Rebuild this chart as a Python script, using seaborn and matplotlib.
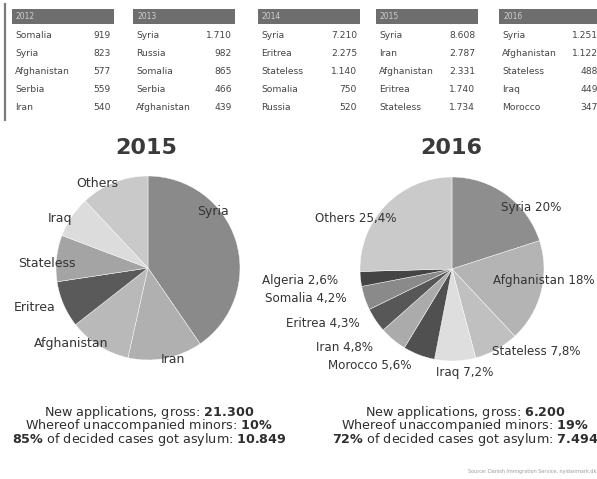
import matplotlib
matplotlib.use("Agg")
import matplotlib.pyplot as plt
from matplotlib.patches import Rectangle
import seaborn as sns

# ---- top-5 tables per year ----
table_years = ["2012", "2013", "2014", "2015", "2016"]
countries_2012 = ["Somalia", "Syria", "Afghanistan", "Serbia", "Iran"]
counts_2012 = [919, 823, 577, 559, 540]
countries_2013 = ["Syria", "Russia", "Somalia", "Serbia", "Afghanistan"]
counts_2013 = [1710, 982, 865, 466, 439]
countries_2014 = ["Syria", "Eritrea", "Stateless", "Somalia", "Russia"]
counts_2014 = [7210, 2275, 1140, 750, 520]
countries_2015 = ["Syria", "Iran", "Afghanistan", "Eritrea", "Stateless"]
counts_2015 = [8608, 2787, 2331, 1740, 1734]
countries_2016 = ["Syria", "Afghanistan", "Stateless", "Iraq", "Morocco"]
counts_2016 = [1251, 1122, 488, 449, 347]

# ---- pie data ----
pie_labels_2015 = ["Syria", "Iran", "Afghanistan", "Eritrea", "Stateless", "Iraq", "Others"]
pie_values_2015 = [8608, 2787, 2331, 1740, 1734, 1550, 2550]
pie_labels_2016 = ["Syria", "Afghanistan", "Stateless", "Iraq", "Morocco",
                   "Iran", "Eritrea", "Somalia", "Algeria", "Others"]
pie_shares_2016 = [20, 18, 7.8, 7.2, 5.6, 4.8, 4.3, 4.2, 2.6, 25.4]

# ---- key figures ----
summary_years = ["2015", "2016"]
new_applications = [21300, 6200]
minors_pct = [10, 19]
asylum_pct = [85, 72]
asylum_cases = [10849, 7494]

sns.set_theme(style="white")
plt.rcParams["font.family"] = ["DejaVu Sans"]
plt.rcParams["mathtext.fontset"] = "custom"
plt.rcParams["mathtext.rm"] = "DejaVu Sans"
plt.rcParams["mathtext.bf"] = "DejaVu Sans:bold"

W, H = 597, 479
fig = plt.figure(figsize=(W / 100, H / 100), dpi=100)
bg = fig.add_axes([0, 0, 1, 1])
bg.set_xlim(0, W)
bg.set_ylim(H, 0)
bg.axis("off")


def thousands(n):
    return f"{n:,}".replace(",", ".")


# left rule next to the tables
bg.plot([5, 5], [3, 121], color="#7a7a7a", lw=1.6, solid_capstyle="butt")

tables = [
    (countries_2012, counts_2012),
    (countries_2013, counts_2013),
    (countries_2014, counts_2014),
    (countries_2015, counts_2015),
    (countries_2016, counts_2016),
]
table_x = [12, 133, 258, 376, 499]
table_w = 102
for year, x0, (names, counts) in zip(table_years, table_x, tables):
    bg.add_patch(Rectangle((x0, 9), table_w, 15, color="#6e6e6e", lw=0))
    bg.text(x0 + 4, 16.5, year, color="#cfcfcf", fontsize=5.5, va="center")
    for j, (name, cnt) in enumerate(zip(names, counts)):
        y = 35 + 18 * j
        bg.text(x0 + 3, y, name, color="#444444", fontsize=6.6, va="center")
        bg.text(x0 + table_w - 3, y, thousands(cnt), color="#444444",
                fontsize=6.6, va="center", ha="right")

colors_2015 = ["#8a8a8a", "#b0b0b0", "#b9b9b9", "#5a5a5a", "#a4a4a4", "#dcdcdc", "#c9c9c9"]
colors_2016 = ["#8e8e8e", "#b4b4b4", "#c0c0c0", "#dedede", "#505050",
               "#ababab", "#575757", "#8a8a8a", "#444444", "#cacaca"]


def draw_pie(cx, cy, r, values, colors):
    ax = fig.add_axes([(cx - r) / W, 1 - (cy + r) / H, 2 * r / W, 2 * r / H])
    ax.pie(values, colors=colors, startangle=90, counterclock=False,
           wedgeprops=dict(edgecolor="white", linewidth=0.3))
    ax.set_xlim(-1, 1)
    ax.set_ylim(-1, 1)
    ax.axis("off")
    return ax


ax15 = draw_pie(148, 268, 92, pie_values_2015, colors_2015)
ax16 = draw_pie(452, 269, 92, pie_shares_2016, colors_2016)

# label positions in pie-radius units
pos_2015 = [(0.71, 0.61), (0.27, -0.99), (-0.83, -0.82), (-1.23, -0.43),
            (-1.10, 0.05), (-0.96, 0.54), (-0.55, 0.92)]
for lab, (lx, ly) in zip(pie_labels_2015, pos_2015):
    ax15.text(lx, ly, lab, ha="center", va="center", fontsize=9,
              color="#333333", clip_on=False)

pos_2016 = [(0.86, 0.67), (1.0, -0.12), (0.92, -0.90), (0.14, -1.13),
            (-0.89, -1.05), (-1.17, -0.85), (-1.40, -0.59), (-1.59, -0.32),
            (-1.65, -0.13), (-1.05, 0.55)]
for lab, share, (lx, ly) in zip(pie_labels_2016, pie_shares_2016, pos_2016):
    txt = f"{lab} {share:g}%".replace(".", ",")
    ax16.text(lx, ly, txt, ha="center", va="center", fontsize=8.6,
              color="#333333", clip_on=False)

# year titles
bg.text(146, 148, "2015", ha="center", va="center", fontsize=16,
        fontweight="bold", color="#3a3a3a")
bg.text(451, 148, "2016", ha="center", va="center", fontsize=16,
        fontweight="bold", color="#3a3a3a")

# key figures under each pie
for cx, apps, mins, pct, cases in zip([149, 465], new_applications, minors_pct,
                                      asylum_pct, asylum_cases):
    lines = [
        "New applications, gross: $\\mathbf{" + thousands(apps) + "}$",
        "Whereof unaccompanied minors: $\\mathbf{" + str(mins) + "\\%}$",
        "$\\mathbf{" + str(pct) + "\\%}$ of decided cases got asylum: $\\mathbf{"
        + thousands(cases) + "}$",
    ]
    bg.text(cx, 426, "\n".join(lines), ha="center", va="center",
            multialignment="center", fontsize=9.2, color="#2e2e2e",
            linespacing=0.72)

bg.text(596, 472, "Source: Danish Immigration Service, nyidanmark.dk",
        ha="right", va="center", fontsize=3.5, color="#9a9a9a")

fig.savefig("out.png", dpi=100, facecolor="white")
